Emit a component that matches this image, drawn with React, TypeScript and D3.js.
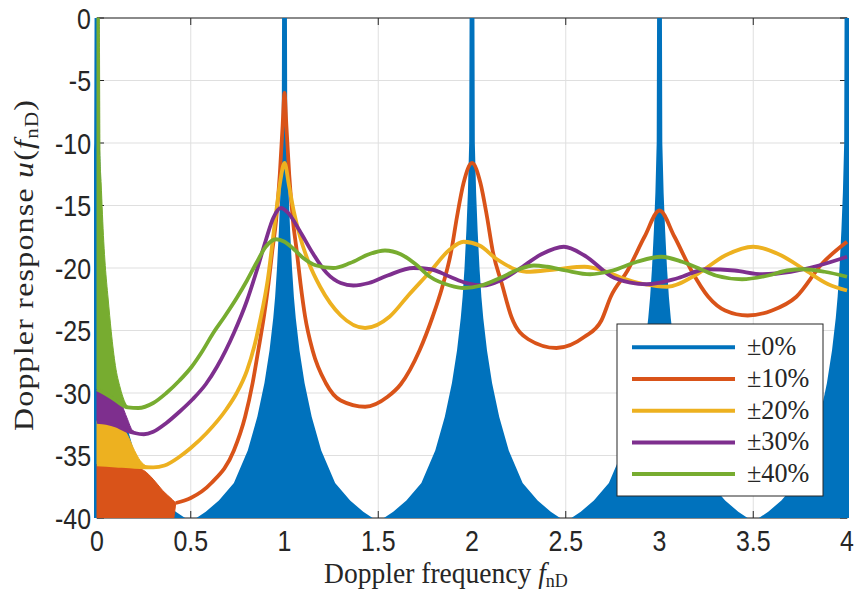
import React from 'react';
import * as d3 from 'd3';

// ---- axes ----
const xTicks = [0, 0.5, 1, 1.5, 2, 2.5, 3, 3.5, 4];
const xTickLabels = ['0', '0.5', '1', '1.5', '2', '2.5', '3', '3.5', '4'];
const yTicks = [-40, -35, -30, -25, -20, -15, -10, -5, 0];
const yTickLabels = ['-40', '-35', '-30', '-25', '-20', '-15', '-10', '-5', '0'];

// ---- legend ----
const seriesLabels = ['±0%', '±10%', '±20%', '±30%', '±40%'];
const seriesColors = ['#0072BD', '#D95319', '#EDB120', '#7E2F8E', '#77AC30'];

// ---- ±0% (dense oscillation, drawn by its envelope) ----
const bluePeakF = [0, 1, 2, 3, 4];
const blueLobeOffset = [0.013, 0.015, 0.022, 0.03, 0.04, 0.05, 0.06, 0.08, 0.107, 0.145, 0.196, 0.27, 0.35, 0.42, 0.5];
const blueLobeDb = [0, -10, -14, -17, -20, -22.3, -24, -26.6, -29.2, -31.9, -34.6, -37.2, -38.6, -39.5, -40.3];

// ---- ±10% ----
const orangeF = [0.42, 0.5, 0.61, 0.73, 0.79, 0.83, 0.86, 0.89, 0.915, 0.935, 0.955, 0.975, 0.99, 1.0, 1.01, 1.025, 1.045, 1.065, 1.085, 1.11, 1.15, 1.22, 1.3, 1.43, 1.55, 1.62, 1.72, 1.79, 1.84, 1.89, 1.92, 1.955, 2.0, 2.045, 2.08, 2.11, 2.16, 2.21, 2.3, 2.45, 2.6, 2.69, 2.74, 2.83, 2.92, 3.0, 3.08, 3.17, 3.26, 3.35, 3.47, 3.6, 3.73, 3.87, 4.0];
const orangeDb = [-38.8, -38.4, -37.2, -34.6, -31.9, -29.2, -26.6, -23.9, -21.2, -18.6, -16.2, -12.5, -8.6, -6.0, -8.6, -12.5, -16.2, -18.6, -21.2, -23.9, -26.6, -29.2, -30.6, -31.1, -30.3, -29.3, -26.6, -23.9, -21.6, -18.6, -15.9, -13.2, -11.6, -13.2, -15.9, -18.6, -21.3, -23.9, -25.7, -26.4, -25.5, -24.2, -22.3, -20.2, -17.5, -15.4, -17.5, -20.2, -22.3, -23.4, -23.8, -23.4, -22.3, -19.6, -17.9];
const orangeFillF = [0, 0.1, 0.2, 0.25, 0.3, 0.35, 0.4, 0.42];
const orangeFillTop = [-35.7, -35.8, -35.95, -36.2, -36.9, -37.8, -38.5, -38.8];
const orangeFillBottom = [-41, -41, -41, -41, -41, -41, -40.6, -38.8];

// ---- ±20% ----
const yellowF = [0, 0.1, 0.2, 0.3, 0.36, 0.44, 0.5, 0.585, 0.69, 0.745, 0.8, 0.84, 0.87, 0.91, 0.95, 0.975, 1.0, 1.025, 1.05, 1.083, 1.13, 1.19, 1.3, 1.43, 1.56, 1.66, 1.776, 1.883, 1.955, 2.04, 2.133, 2.29, 2.45, 2.6, 2.7, 2.8, 2.92, 3.04, 3.2, 3.35, 3.5, 3.65, 3.77, 3.9, 4.0];
const yellowDb = [-35.7, -35.8, -35.9, -35.95, -35.8, -35.1, -34.4, -33.2, -31.3, -30.0, -28.2, -26.2, -24.2, -21.0, -16.2, -13.3, -11.6, -13.5, -15.5, -17.5, -19.6, -21.5, -23.8, -24.8, -23.9, -22.2, -20.3, -18.5, -17.9, -18.2, -19.3, -20.3, -20.1, -19.9, -20.2, -20.8, -21.3, -21.5, -20.5, -19.0, -18.3, -19.0, -20.1, -21.3, -21.8];
const yellowFillF = [0, 0.07, 0.13, 0.16, 0.2, 0.23, 0.265, 0.3];
const yellowFillTop = [-32.2, -32.4, -32.7, -33.3, -34.6, -35.4, -35.85, -35.95];
const yellowFillBottom = [-35.7, -35.75, -35.8, -35.85, -35.9, -35.9, -35.95, -35.95];

// ---- ±30% ----
const purpleF = [0, 0.05, 0.1, 0.15, 0.2, 0.25, 0.3, 0.37, 0.44, 0.51, 0.58, 0.64, 0.73, 0.8, 0.85, 0.9, 0.94, 0.98, 1.02, 1.08, 1.15, 1.225, 1.3, 1.367, 1.45, 1.55, 1.687, 1.78, 1.883, 1.97, 2.06, 2.15, 2.25, 2.37, 2.49, 2.6, 2.76, 2.93, 3.1, 3.25, 3.4, 3.55, 3.7, 3.85, 4.0];
const purpleDb = [-32.3, -32.4, -32.6, -32.95, -33.2, -33.3, -33.1, -32.4, -31.5, -30.5, -29.3, -27.9, -25.2, -22.6, -20.3, -17.8, -16.0, -15.2, -15.6, -17.0, -18.8, -20.4, -21.2, -21.4, -21.2, -20.6, -20.0, -20.1, -20.7, -21.2, -21.4, -21.0, -20.1, -18.9, -18.3, -19.0, -20.8, -21.3, -20.8, -20.1, -20.2, -20.5, -20.3, -19.8, -19.1];
const purpleFillF = [0, 0.05, 0.1, 0.13, 0.16, 0.19, 0.23];
const purpleFillTop = [-29.7, -29.9, -30.3, -30.9, -32.0, -33.0, -33.25];
const purpleFillBottom = [-32.3, -32.4, -32.6, -32.8, -33.0, -33.15, -33.25];

// ---- ±40% ----
const greenF = [0, 0.05, 0.1, 0.165, 0.22, 0.3, 0.37, 0.44, 0.505, 0.56, 0.62, 0.68, 0.745, 0.8, 0.85, 0.9, 0.955, 1.0, 1.05, 1.1, 1.17, 1.26, 1.35, 1.45, 1.536, 1.62, 1.7, 1.776, 1.883, 1.955, 2.05, 2.15, 2.25, 2.33, 2.4, 2.5, 2.63, 2.75, 2.88, 3.01, 3.12, 3.22, 3.3, 3.44, 3.58, 3.68, 3.77, 3.88, 4.0];
const greenDb = [-29.7, -30.1, -30.6, -31.15, -31.2, -30.8, -30.0, -29.0, -27.9, -26.7, -25.2, -23.9, -22.4, -21.0, -19.6, -18.3, -17.7, -17.9, -18.5, -19.2, -19.8, -20.0, -19.6, -18.9, -18.6, -18.9, -19.7, -20.7, -21.4, -21.6, -21.4, -20.8, -20.1, -19.8, -19.9, -20.2, -20.5, -20.2, -19.5, -19.1, -19.5, -20.1, -20.6, -20.9, -20.6, -20.2, -20.1, -20.3, -20.7];
const greenFillF = [0, 0.012, 0.016, 0.022, 0.036, 0.044, 0.059, 0.076, 0.098, 0.124, 0.145, 0.165];
const greenFillTop = [0, 0, -11, -13.2, -17.9, -19.8, -22.4, -25.1, -27.8, -29.6, -30.6, -31.15];
const greenFillBottom = [-29.7, -29.72, -29.75, -29.8, -29.9, -30.0, -30.1, -30.3, -30.5, -30.8, -31.0, -31.15];

const W = 854;
const H = 592;
const X0 = 97, X1 = 847, Y0 = 18, Y1 = 518;

const x = d3.scaleLinear().domain([0, 4]).range([X0, X1]);
const y = d3.scaleLinear().domain([-40, 0]).range([Y1, Y0]);

type Pt = [number, number];
const zip = (a: number[], b: number[]): Pt[] => a.map((v, i) => [v, b[i]] as Pt);

const lineGen = d3.line<Pt>().x(d => x(d[0])).y(d => y(d[1])).curve(d3.curveMonotoneX);

function fillPath(f: number[], top: number[], bottom: number[]) {
  const data = f.map((v, i) => ({ f: v, t: top[i], b: bottom[i] }));
  return d3.area<{ f: number; t: number; b: number }>()
    .x(d => x(d.f)).y0(d => y(d.b)).y1(d => y(d.t))
    .curve(d3.curveMonotoneX)(data) || '';
}

function bluePath() {
  const pts: Pt[] = [];
  bluePeakF.forEach(p => {
    for (let i = blueLobeOffset.length - 1; i >= 0; i--) pts.push([p - blueLobeOffset[i], blueLobeDb[i]]);
    for (let i = 0; i < blueLobeOffset.length; i++) pts.push([p + blueLobeOffset[i], blueLobeDb[i]]);
  });
  return d3.area<Pt>().x(d => x(d[0])).y0(y(-40)).y1(d => y(d[1])).curve(d3.curveLinear)(pts) || '';
}

const colored = [
  { color: seriesColors[1], line: zip(orangeF, orangeDb), fill: [orangeFillF, orangeFillTop, orangeFillBottom] },
  { color: seriesColors[2], line: zip(yellowF, yellowDb), fill: [yellowFillF, yellowFillTop, yellowFillBottom] },
  { color: seriesColors[3], line: zip(purpleF, purpleDb), fill: [purpleFillF, purpleFillTop, purpleFillBottom] },
  { color: seriesColors[4], line: zip(greenF, greenDb), fill: [greenFillF, greenFillTop, greenFillBottom] },
];

const axisColor = '#262626';
const gridColor = '#dfdfdf';
const sansFont = "'Liberation Sans', Arial, Helvetica, sans-serif";
const serifFont = "'Liberation Serif', 'Times New Roman', serif";

export default function App() {
  const tick = 7;
  return (
    <svg width={W} height={H} style={{ position: 'absolute', left: 0, top: 0, background: '#fff' }}>
      <defs>
        <clipPath id="plotClip">
          <rect x={X0 - 3} y={Y0 - 1} width={X1 - X0 + 5} height={Y1 - Y0 + 1} />
        </clipPath>
      </defs>
      <rect x={0} y={0} width={W} height={H} fill="#fff" />
      {/* grid */}
      {xTicks.map((t, i) => (
        <line key={'gx' + i} x1={x(t)} x2={x(t)} y1={Y0} y2={Y1} stroke={gridColor} strokeWidth={1} />
      ))}
      {yTicks.map((t, i) => (
        <line key={'gy' + i} x1={X0} x2={X1} y1={y(t)} y2={y(t)} stroke={gridColor} strokeWidth={1} />
      ))}
      {/* axes box and ticks */}
      <rect x={X0} y={Y0} width={X1 - X0} height={Y1 - Y0} fill="none" stroke={axisColor} strokeWidth={1} />
      {xTicks.map((t, i) => (
        <g key={'tx' + i}>
          <line x1={x(t)} x2={x(t)} y1={Y1} y2={Y1 - tick} stroke={axisColor} />
          <line x1={x(t)} x2={x(t)} y1={Y0} y2={Y0 + tick} stroke={axisColor} />
        </g>
      ))}
      {yTicks.map((t, i) => (
        <g key={'ty' + i}>
          <line x1={X0} x2={X0 + tick} y1={y(t)} y2={y(t)} stroke={axisColor} />
          <line x1={X1} x2={X1 - tick} y1={y(t)} y2={y(t)} stroke={axisColor} />
        </g>
      ))}
      {/* data */}
      <g clipPath="url(#plotClip)">
        <path d={bluePath()} fill={seriesColors[0]} stroke="none" />
        {colored.map((s, i) => (
          <g key={'s' + i}>
            <path d={fillPath(s.fill[0], s.fill[1], s.fill[2])} fill={s.color} stroke={s.color} strokeWidth={1} />
            <path d={lineGen(s.line) || ''} fill="none" stroke={s.color} strokeWidth={3.8} strokeLinejoin="round" />
          </g>
        ))}
      </g>
      {/* tick labels */}
      {xTicks.map((t, i) => (
        <g key={'lx' + i} transform={`translate(${x(t)},551) scale(0.86,1)`}>
          <text textAnchor="middle" fontFamily={sansFont} fontSize={29} fill={axisColor}>{xTickLabels[i]}</text>
        </g>
      ))}
      {yTicks.map((t, i) => (
        <g key={'ly' + i} transform={`translate(91,${y(t) + 10.5}) scale(0.86,1)`}>
          <text textAnchor="end" fontFamily={sansFont} fontSize={29} fill={axisColor}>{yTickLabels[i]}</text>
        </g>
      ))}
      {/* axis labels */}
      <g transform={`translate(446,583) scale(0.95,1)`}>
        <text textAnchor="middle" fontFamily={serifFont} fontSize={29} fill={axisColor}>
          Doppler frequency <tspan fontStyle="italic">f</tspan>
          <tspan fontSize={19} dy={4}>nD</tspan>
        </text>
      </g>
      <g transform={`translate(33,${(Y0 + Y1) / 2 - 3}) scale(0.85,1) rotate(-90)`}>
        <text textAnchor="middle" fontFamily={serifFont} fontSize={32} letterSpacing={1.2} fill={axisColor}>
          Doppler response <tspan fontStyle="italic">u</tspan>(<tspan fontStyle="italic">f</tspan>
          <tspan fontSize={21} dy={6}>nD</tspan>
          <tspan dy={-6}>)</tspan>
        </text>
      </g>
      {/* legend */}
      <rect x={617} y={324} width={206} height={172} fill="#fff" stroke={axisColor} strokeWidth={1} />
      {seriesLabels.map((lab, i) => {
        const ly = 347.3 + i * 31.7;
        return (
          <g key={'lg' + i}>
            <line x1={632} x2={735} y1={ly} y2={ly} stroke={seriesColors[i]} strokeWidth={4} />
            <g transform={`translate(747,${ly + 8}) scale(0.97,1)`}>
              <text fontFamily={serifFont} fontSize={27} fill={axisColor}>{lab}</text>
            </g>
          </g>
        );
      })}
    </svg>
  );
}
